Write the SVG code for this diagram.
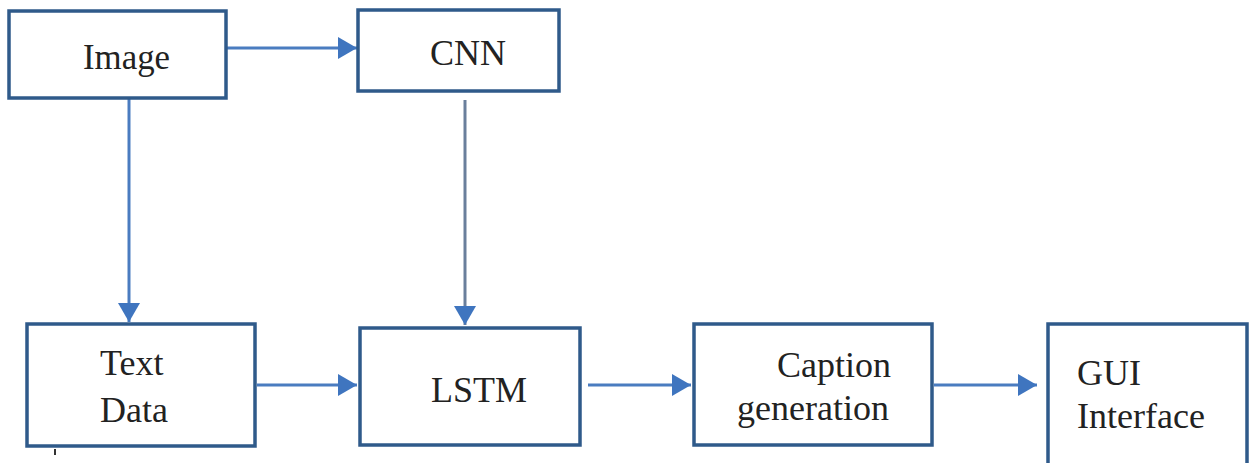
<svg xmlns="http://www.w3.org/2000/svg" width="1249" height="463" viewBox="0 0 1249 463">
<style>
.box{fill:#ffffff;stroke:#2f5a8a;stroke-width:3.5}
.lbl{font-family:"Liberation Serif","Times New Roman",serif;font-size:36px;fill:#222222}
.conn{stroke:#4a7cc0;stroke-width:3;fill:none}
</style>
<defs>
<marker id="ah" markerWidth="20" markerHeight="22" refX="19" refY="11" orient="auto" markerUnits="userSpaceOnUse">
<path d="M0,0 L19,11 L0,22 Z" fill="#3f75bf"/>
</marker>
</defs>
<rect width="1249" height="463" fill="#ffffff"/>
<g id="connectors">
<line class="conn" x1="227" y1="48" x2="357" y2="48" marker-end="url(#ah)"/>
<line class="conn" x1="129" y1="99" x2="129" y2="322" marker-end="url(#ah)"/>
<line class="conn" x1="465" y1="100" x2="465" y2="325" marker-end="url(#ah)" style="stroke:#6a7f9c"/>
<line class="conn" x1="257" y1="385" x2="357" y2="385" marker-end="url(#ah)"/>
<line class="conn" x1="588" y1="385" x2="691" y2="385" marker-end="url(#ah)"/>
<line class="conn" x1="934" y1="385" x2="1037" y2="385" marker-end="url(#ah)"/>
</g>
<g id="image">
<rect class="box" x="9" y="11" width="217" height="87"/>
<text class="lbl" x="83" y="69" textLength="87" lengthAdjust="spacingAndGlyphs">Image</text>
</g>
<g id="cnn">
<rect class="box" x="358" y="10" width="201" height="81"/>
<text class="lbl" x="430" y="65">CNN</text>
</g>
<g id="textdata">
<rect class="box" x="27" y="324" width="228" height="122"/>
<text class="lbl" x="100" y="375">Text</text>
<text class="lbl" x="100" y="422">Data</text>
</g>
<g id="lstm">
<rect class="box" x="360" y="328" width="220" height="117"/>
<text class="lbl" x="431" y="402">LSTM</text>
</g>
<g id="caption">
<rect class="box" x="694" y="324" width="238" height="121"/>
<text class="lbl" x="777" y="377">Caption</text>
<text class="lbl" x="737" y="420">generation</text>
</g>
<g id="gui">
<rect class="box" x="1048" y="324" width="199" height="145"/>
<text class="lbl" x="1077" y="385">GUI</text>
<text class="lbl" x="1077" y="428">Interface</text>
</g>
<line x1="55" y1="449" x2="55" y2="455" stroke="#333333" stroke-width="2"/>
</svg>
